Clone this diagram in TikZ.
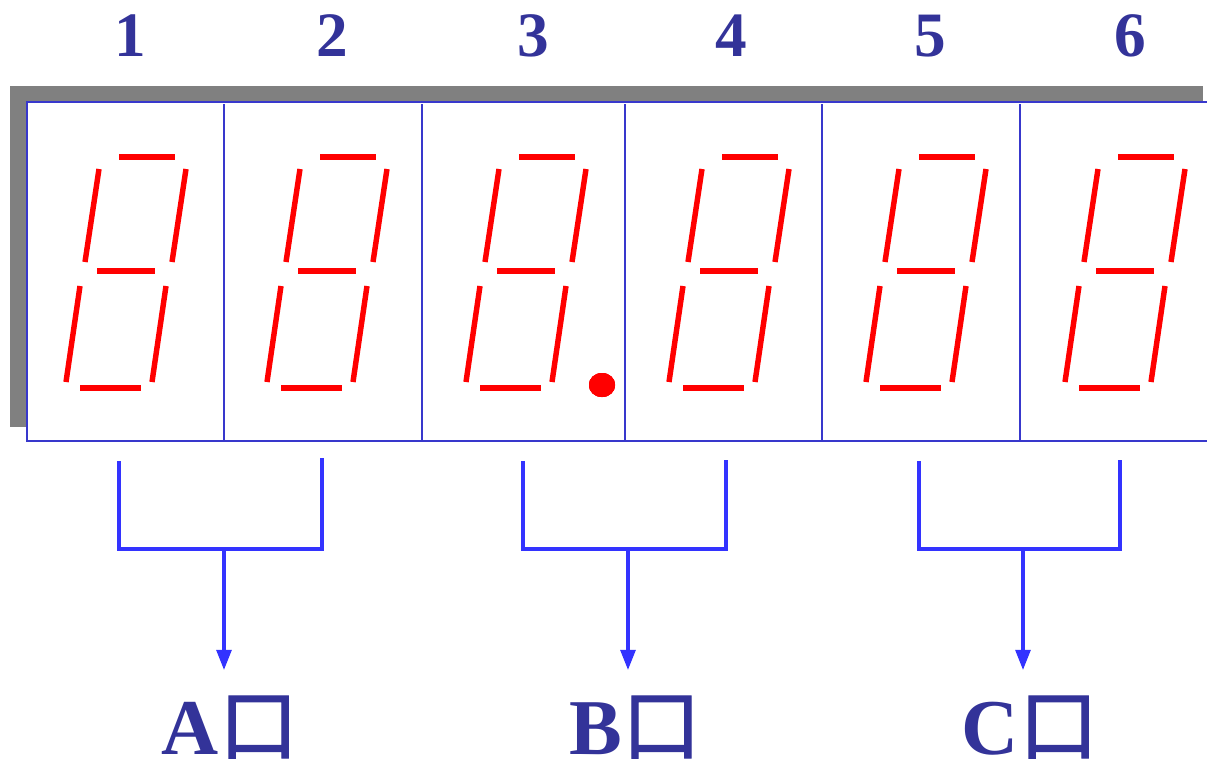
\documentclass[tikz,border=0pt]{standalone}
\usepackage{fontspec}
\setmainfont{Liberation Serif}
\newfontfamily\cjk[FakeBold=1.5]{Noto Sans CJK SC}
\usetikzlibrary{arrows.meta}
\definecolor{txtblue}{HTML}{333399}
\definecolor{boxblue}{HTML}{3838CC}
\definecolor{brblue}{HTML}{3333FF}
\definecolor{segred}{HTML}{FF0000}
\definecolor{shadowgray}{HTML}{808080}
\tikzset{
  seg/.style={draw=segred, line width=3.1pt, line cap=butt},
  divider/.style={draw=boxblue, line width=0.9pt},
  frame/.style={draw=boxblue, line width=1.2pt},
  bracket/.style={draw=brblue, line width=1.8pt},
  portarrow/.style={draw=brblue, line width=1.8pt, -{Triangle[width=8.5pt,length=11.5pt]}},
  numlabel/.style={text=txtblue, font=\fontsize{36}{36}\selectfont\bfseries, inner sep=0pt},
  portlabel/.style={text=txtblue, font=\fontsize{45}{45}\selectfont\bfseries, inner sep=0pt, anchor=base}
}
\newcommand\kou{\raisebox{0pt}[\height][0pt]{\cjk\mdseries 口}}
\newcommand\sevenseg[1]{%
  \begin{scope}[shift={(#1,0)}]
    \draw[seg] (119,157) -- (175,157);
    \draw[seg] (99,169) -- (85,262);
    \draw[seg] (186,169) -- (172,262);
    \draw[seg] (97,271) -- (155,271);
    \draw[seg] (80,286) -- (66,382);
    \draw[seg] (166,286) -- (152,382);
    \draw[seg] (80,388) -- (141,388);
  \end{scope}}
\begin{document}
\begin{tikzpicture}[x=0.02cm, y=-0.02cm]
\useasboundingbox (0,0) rectangle (1207,772);
\begin{scope}
\clip (0,0) rectangle (1207,772);
% shadow
\fill[shadowgray] (10,86) rectangle (1203,427);
% display box
\fill[white] (27,102) rectangle (1215,441);
\draw[frame] (1215,102) -- (27,102) -- (27,441) -- (1215,441);
\foreach \x in {224,422,625,822,1020} \draw[divider] (\x,104) -- (\x,440);
\end{scope}
% digits
\foreach \s in {0,201,400,603,800,999} \sevenseg{\s}
\fill[segred] (602,385) ellipse [x radius=13, y radius=12];
% numbers
\node[numlabel] (n1) at (130,36) {1};
\node[numlabel] (n2) at (332,36) {2};
\node[numlabel] (n3) at (533,36) {3};
\node[numlabel] (n4) at (731,36) {4};
\node[numlabel] (n5) at (930,36) {5};
\node[numlabel] (n6) at (1130,36) {6};
% port labels
\node[portlabel] (pa) at (230,754) {A\kou};
\node[portlabel] (pb) at (635,754) {B\kou};
\node[portlabel] (pc) at (1030,754) {C\kou};
% brackets
\coordinate (a1) at (119,461); \coordinate (a2) at (322,458);
\coordinate (am) at (224,549); \coordinate (at) at (224,670);
\coordinate (b1) at (523,461); \coordinate (b2) at (726,460);
\coordinate (bm) at (628,549); \coordinate (bt) at (628,670);
\coordinate (c1) at (919,461); \coordinate (c2) at (1120,460);
\coordinate (cm) at (1023,549); \coordinate (ct) at (1023,670);
\draw[bracket] (a1) -- (a1 |- am) -- (a2 |- am) -- (a2);
\draw[portarrow] (am) -- (at);
\draw[bracket] (b1) -- (b1 |- bm) -- (b2 |- bm) -- (b2);
\draw[portarrow] (bm) -- (bt);
\draw[bracket] (c1) -- (c1 |- cm) -- (c2 |- cm) -- (c2);
\draw[portarrow] (cm) -- (ct);
\end{tikzpicture}
\end{document}
